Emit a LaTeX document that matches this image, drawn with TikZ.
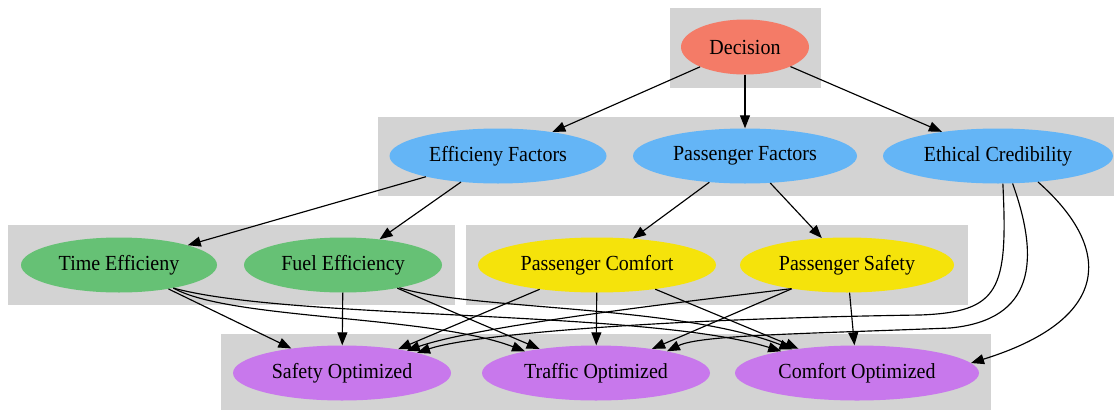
\documentclass[tikz,border=0pt]{standalone}
\usepackage{fontspec}
\setmainfont{Liberation Serif}[FakeStretch=0.93]
\usetikzlibrary{shapes.geometric,arrows.meta}
\definecolor{salm}{HTML}{F47B67}
\definecolor{blu}{HTML}{64B5F6}
\definecolor{grn}{HTML}{66C175}
\definecolor{yel}{HTML}{F5E30B}
\definecolor{pur}{HTML}{C878EC}
\definecolor{clgray}{HTML}{D3D3D3}
\begin{document}
\begin{tikzpicture}[x=1pt,y=-1pt,
  nd/.style={ellipse,inner sep=0pt,minimum height=55pt,font=\fontsize{21.5}{24}\selectfont},
  clus/.style={fill=clgray,draw=none},
  conn/.style={-{Triangle[length=13pt,width=10pt]},line width=1.15pt,black}]
\useasboundingbox (0,0) rectangle (1114,410);
% clusters
\fill[clus] (670,8) rectangle (821,88);
\fill[clus] (378,117) rectangle (1114,196);
\fill[clus] (8,225) rectangle (455,305);
\fill[clus] (466,225) rectangle (968,305);
\fill[clus] (221,334) rectangle (991,410);
% nodes
\node[nd,fill=salm,minimum width=128pt] (dec) at (745,47) {Decision};
\node[nd,fill=blu,minimum width=217pt] (eff) at (498,156) {Efficieny Factors};
\node[nd,fill=blu,minimum width=224pt] (pas) at (745,156) {Passenger Factors};
\node[nd,fill=blu,minimum width=230pt] (eth) at (998,156) {Ethical Credibility};
\node[nd,fill=grn,minimum width=196pt] (time) at (119,265) {Time Efficieny};
\node[nd,fill=grn,minimum width=198pt] (fuel) at (343,265) {Fuel Efficiency};
\node[nd,fill=yel,minimum width=238pt] (pcomf) at (597,265) {Passenger Comfort};
\node[nd,fill=yel,minimum width=214pt] (psafe) at (847,265) {Passenger Safety};
\node[nd,fill=pur,minimum width=218pt] (sopt) at (342,373) {Safety Optimized};
\node[nd,fill=pur,minimum width=228pt] (topt) at (596,373) {Traffic Optimized};
\node[nd,fill=pur,minimum width=244pt] (copt) at (857,373) {Comfort Optimized};
% edges
\draw[conn] (dec) -- (eff);
\draw[conn] (dec) -- (pas);
\draw[conn] (dec) -- (eth);
\draw[conn] (eff) -- (time);
\draw[conn] (eff) -- (fuel);
\draw[conn] (pas) -- (pcomf);
\draw[conn] (pas) -- (psafe);
\draw[conn] (time) -- (sopt);
\draw[conn] (time.-23) .. controls (230,320) and (430,315) .. (topt.163);
\draw[conn] (time.-23) .. controls (290,320) and (650,310) .. (copt.164);
\draw[conn] (fuel) -- (sopt);
\draw[conn] (fuel) -- (topt);
\draw[conn] (fuel.-22) .. controls (470,310) and (680,305) .. (copt.160);
\draw[conn] (pcomf) -- (sopt);
\draw[conn] (pcomf) -- (topt);
\draw[conn] (pcomf) -- (copt);
\draw[conn] (psafe.203) .. controls (700,300) and (480,325) .. (sopt.19);
\draw[conn] (psafe) -- (topt);
\draw[conn] (psafe) -- (copt);
\draw[conn] (eth.-80) .. controls (1008,290) and (1000,312) .. (920,315) .. controls (650,319) and (470,335) .. (sopt.15);
\draw[conn] (eth.-62) .. controls (1040,260) and (1035,320) .. (950,328) .. controls (800,334) and (700,335) .. (topt.17);
\draw[conn] (eth.-33) .. controls (1115,250) and (1110,320) .. (copt.5);
\end{tikzpicture}
\end{document}
